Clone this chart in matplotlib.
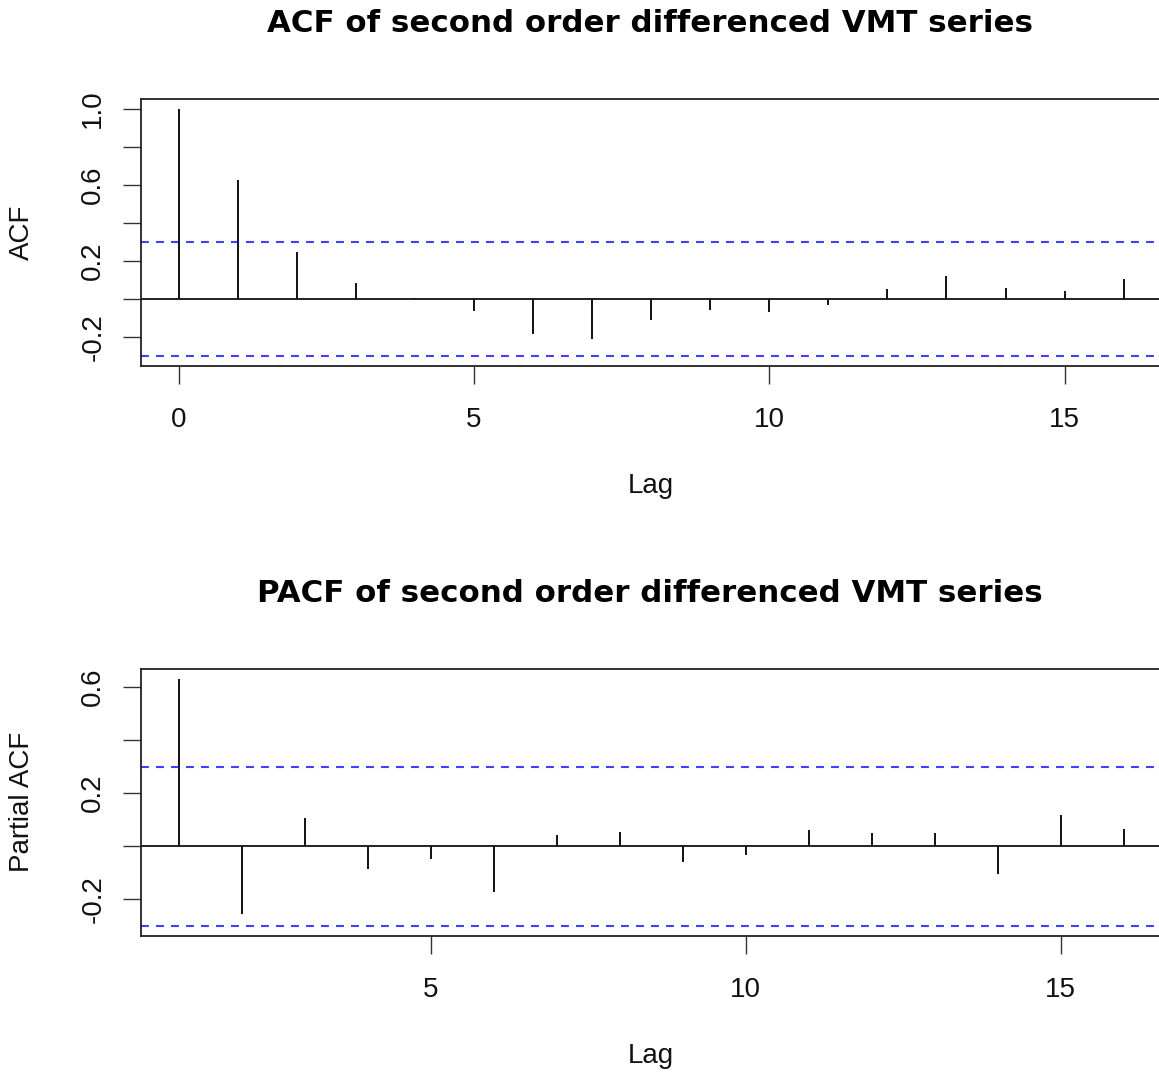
import numpy as np
import matplotlib
matplotlib.use("Agg")
import matplotlib.pyplot as plt

plt.rcParams['font.family'] = ['Liberation Sans', 'DejaVu Sans']
plt.rcParams['axes.unicode_minus'] = False

# sample ACF / PACF
acf_lag = np.arange(0, 17)
acf_val = [1.0, 0.625, 0.249, 0.085, 0.004, -0.066, -0.184, -0.21, -0.112,
           -0.059, -0.068, -0.031, 0.05, 0.122, 0.059, 0.041, 0.105]
pacf_lag = np.arange(1, 17)
pacf_val = [0.63, -0.257, 0.106, -0.086, -0.047, -0.174, 0.043, 0.055, -0.06,
            -0.035, 0.06, 0.048, 0.048, -0.105, 0.118, 0.066]
ci = 0.30  # 95% bound, +/- 1.96/sqrt(n)

acf_yticks = [-0.2, 0.0, 0.2, 0.4, 0.6, 0.8, 1.0]
acf_ylabels = ['-0.2', '', '0.2', '', '0.6', '', '1.0']
acf_xticks = [0, 5, 10, 15]
pacf_yticks = [-0.2, 0.0, 0.2, 0.4, 0.6]
pacf_ylabels = ['-0.2', '', '0.2', '', '0.6']
pacf_xticks = [5, 10, 15]

W, H = 1159, 1072
fig = plt.figure(figsize=(W / 100, H / 100), dpi=100)
fs = 20


def r_range(lo, hi):
    # R style 4% extension
    d = (hi - lo) * 0.04
    return lo - d, hi + d


def panel(top_px, lags, vals, yticks, ylabels, xticks, title, ylab):
    left_px, right_px = 141, 1161.4
    h_px = 266.7
    ax = fig.add_axes([left_px / W, 1 - (top_px + h_px) / H,
                       (right_px - left_px) / W, h_px / H])
    ax.vlines(lags, 0, vals, color='#111111', lw=1.4)
    ax.axhline(0, color='#111111', lw=1.3)
    ax.axhline(ci, color='blue', lw=1.5, ls=(0, (3.8, 3.4)), alpha=0.75)
    ax.axhline(-ci, color='blue', lw=1.5, ls=(0, (3.8, 3.4)), alpha=0.75)
    ax.set_xlim(*r_range(min(lags), max(lags)))
    ax.set_ylim(*r_range(min(min(vals), -ci), max(max(vals), ci)))
    ax.set_yticks(yticks)
    ax.set_yticklabels(ylabels, rotation=90, va='center', fontsize=fs)
    ax.set_xticks(xticks)
    ax.set_xticklabels([str(x) for x in xticks], fontsize=fs)
    ax.tick_params(axis='both', direction='out', length=13, width=1.0,
                   color='#333333', labelcolor='#111111')
    ax.tick_params(axis='y', pad=12)
    ax.tick_params(axis='x', pad=17)
    for s in ax.spines.values():
        s.set_linewidth(1.3)
        s.set_color('#222222')
    bottom_px = top_px + h_px
    fig.text(650 / W, 1 - (top_px - 66.6) / H, title, ha='center',
             va='baseline', fontsize=22.2, fontweight='bold',
             family=['DejaVu Sans'])
    fig.text(651 / W, 1 - (bottom_px + 127) / H, 'Lag', ha='center',
             va='baseline', fontsize=fs, color='#111111')
    fig.text(22 / W, 1 - (top_px + h_px / 2) / H, ylab, ha='center',
             va='center', rotation=90, fontsize=fs, color='#111111')
    return ax


panel(99, acf_lag, acf_val, acf_yticks, acf_ylabels, acf_xticks,
      'ACF of second order differenced VMT series', 'ACF')
panel(669, pacf_lag, pacf_val, pacf_yticks, pacf_ylabels, pacf_xticks,
      'PACF of second order differenced VMT series', 'Partial ACF')

fig.savefig('out.png', dpi=100)
